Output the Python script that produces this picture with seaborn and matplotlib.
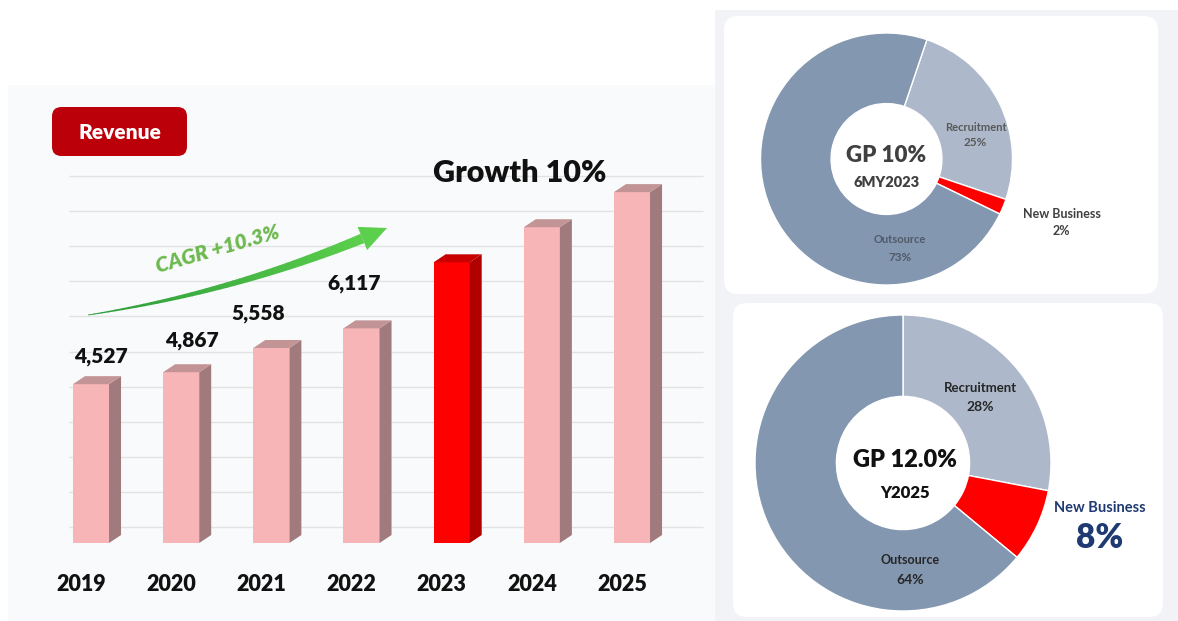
import numpy as np
import pandas as pd
import matplotlib
matplotlib.use("Agg")
import matplotlib.pyplot as plt
import seaborn as sns
from matplotlib.patches import Polygon, FancyBboxPatch, Rectangle
from matplotlib.transforms import ScaledTranslation
from matplotlib.colors import to_rgb

# ---------------- data ----------------
years = ["2019", "2020", "2021", "2022", "2023", "2024", "2025"]
revenue = [4527, 4867, 5558, 6117, 8000, 9000, 10000]
labeled = [True, True, True, True, False, False, False]
highlight_year = "2023"

gp_labels = ["Recruitment", "New Business", "Outsource"]
gp_2023_share = [25, 2, 73]
gp_2025_share = [28, 8, 64]

# ---------------- styling ----------------
W, H = 1178, 621
sns.set_theme(style="white")
plt.rcParams["font.family"] = ["Lato", "DejaVu Sans"]

fig = plt.figure(figsize=(W / 100, H / 100), dpi=100)
fig.patch.set_facecolor("white")


def fx(x):
    return x / W


def fy(y):
    return 1 - y / H


def ftext(x, y, s, **kw):
    kw.setdefault("ha", "center")
    kw.setdefault("va", "center")
    return fig.text(fx(x), fy(y), s, **kw)


def frect(x0, y0, x1, y1, color, rounded=False, z=-5):
    if rounded:
        p = FancyBboxPatch((fx(x0), fy(y1)), fx(x1) - fx(x0), fy(y0) - fy(y1),
                           boxstyle="round,pad=0,rounding_size=0.012",
                           mutation_aspect=W / H,
                           transform=fig.transFigure, facecolor=color,
                           edgecolor="none", zorder=z)
    else:
        p = Rectangle((fx(x0), fy(y1)), fx(x1) - fx(x0), fy(y0) - fy(y1),
                      transform=fig.transFigure, facecolor=color,
                      edgecolor="none", zorder=z)
    fig.patches.append(p)


# backgrounds
frect(8, 85, 715, 621, "#f9fafb")
frect(715, 10, W, H, "#f1f3f6")
frect(724, 16, 1158, 294, "white", rounded=True, z=-4)
frect(733, 303, 1163, 617, "white", rounded=True, z=-4)

# ---------------- revenue bars ----------------
PX_X = 90.17        # pixels per category
UPP = 28.5          # revenue units per pixel
ax = fig.add_axes([fx(30), fy(543), fx(710) - fx(30), fy(150) - fy(543)])
ax.patch.set_alpha(0)

df = pd.DataFrame({"year": years, "revenue": revenue})
palette = {y: ("#ff0000" if y == highlight_year else "#f7b5b8") for y in years}
sns.barplot(data=df, x="year", y="revenue", hue="year", palette=palette,
            width=0.4, saturation=1, legend=False, ax=ax, zorder=3,
            linewidth=0)

ax.set_xlim(-(91 - 30) / PX_X, 6 + (710 - 632) / PX_X)
ax.set_ylim(0, 393 * UPP)

dx = 12 / PX_X
dy = 8 * UPP
bars = sorted(ax.patches, key=lambda p: p.get_x())
for p, yr in zip(bars, years):
    x, w, h = p.get_x(), p.get_width(), p.get_height()
    hl = (yr == highlight_year)
    side_c = "#b00000" if hl else "#a07a7c"
    top_c = "#c80000" if hl else "#c39496"
    ax.add_patch(Polygon([(x + w, 0), (x + w + dx, dy), (x + w + dx, h + dy), (x + w, h)],
                         closed=True, facecolor=side_c, edgecolor="none", zorder=3))
    ax.add_patch(Polygon([(x, h), (x + dx, h + dy), (x + w + dx, h + dy), (x + w, h)],
                         closed=True, facecolor=top_c, edgecolor="none", zorder=3))

# back-wall gridlines
for k in range(11):
    ax.hlines(k * 1000 + 2 * dy, -22 / PX_X, 6 + 71 / PX_X, color="#e2e2e2",
              lw=1, zorder=1)

for s in ax.spines.values():
    s.set_visible(False)
ax.set_xlabel("")
ax.set_ylabel("")
ax.set_yticks([])
ax.tick_params(axis="x", length=0, pad=22, labelsize=15.5)
for lbl in ax.get_xticklabels():
    lbl.set_fontweight("heavy")
    lbl.set_color("#111111")
    lbl.set_transform(lbl.get_transform() + ScaledTranslation(-0.10, 0, fig.dpi_scale_trans))

# value labels (pixel offsets from top-centre of each bar)
label_offsets = [(10, 28), (11, 32), (-13, 34), (-7, 45)]
oi = 0
for i, (v, show) in enumerate(zip(revenue, labeled)):
    if not show:
        continue
    ox, oy = label_offsets[oi]
    oi += 1
    ax.annotate(f"{v:,}", xy=(i, v), xytext=(ox, oy), textcoords="offset pixels",
                ha="center", va="center", fontsize=15, fontweight="heavy",
                color="#111111", zorder=5)

# Revenue badge
fig.patches.append(FancyBboxPatch((fx(52), fy(156)), fx(187) - fx(52), fy(107) - fy(156),
                                  boxstyle="round,pad=0,rounding_size=0.008",
                                  mutation_aspect=W / H,
                                  transform=fig.transFigure, facecolor="#bb0009",
                                  edgecolor="none", zorder=2))
ftext(119.5, 132, "Revenue", color="white", fontsize=15, fontweight="heavy", zorder=4)

ftext(520, 173, "Growth 10%", color="#111111", fontsize=22, fontweight="heavy")

# CAGR arrow: tapered curved arrow with green gradient (pixel geometry)
P0 = np.array([88.0, 315.0])
P2 = np.array([387.0, 228.0])
P1 = np.array([243.0, 291.0])
tt = np.linspace(0, 1, 400)
curve = ((1 - tt)[:, None] ** 2) * P0 + (2 * (1 - tt) * tt)[:, None] * P1 + (tt[:, None] ** 2) * P2
seg = np.r_[0, np.cumsum(np.hypot(*np.diff(curve, axis=0).T))]
head_len, head_w = 27.0, 25.0
ih = np.searchsorted(seg, seg[-1] - head_len)
tang = np.gradient(curve, axis=0)
tang /= np.hypot(tang[:, 0], tang[:, 1])[:, None]
norm = np.c_[-tang[:, 1], tang[:, 0]]
body_w = np.linspace(0.8, 10.0, ih + 1)
c0, c1 = np.array(to_rgb("#2b9a3a")), np.array(to_rgb("#5ccf4c"))
nseg = 40
idx = np.linspace(0, ih, nseg + 1).astype(int)


def topx(pts):
    return [(fx(a), fy(b)) for a, b in pts]


for j in range(nseg):
    a, b = idx[j], idx[j + 1] + 1
    a = max(a - 1, 0)
    b = min(b, ih + 1)
    left = curve[a:b] + norm[a:b] * body_w[a:b, None] / 2
    right = curve[a:b] - norm[a:b] * body_w[a:b, None] / 2
    pts = np.vstack([left, right[::-1]])
    col = c0 + (c1 - c0) * (j / nseg)
    fig.patches.append(Polygon(topx(pts), closed=True, transform=fig.transFigure,
                               facecolor=col, edgecolor="none", zorder=4))
base = curve[ih]
head = [base + norm[ih] * head_w / 2, P2, base - norm[ih] * head_w / 2]
fig.patches.append(Polygon(topx(head), closed=True, transform=fig.transFigure,
                           facecolor="#5ccf4c", edgecolor="none", zorder=4))

ftext(218, 249, "CAGR +10.3%", color="#6cb94e", fontsize=15, fontweight="heavy",
      style="italic", rotation=16, rotation_mode="anchor")

# ---------------- donuts ----------------
donut_colors = ["#adb9ca", "#ff0000", "#8497b0"]


def donut(cx, cy, r, hole, shares, startangle):
    dax = fig.add_axes([fx(cx - r), fy(cy + r), 2 * r / W, 2 * r / H])
    dax.pie(shares, colors=donut_colors, startangle=startangle, counterclock=False,
            radius=1, wedgeprops=dict(width=1 - hole, edgecolor="white", linewidth=1))
    dax.set_xlim(-1, 1)
    dax.set_ylim(-1, 1)
    dax.axis("off")
    return dax


donut(886.5, 159, 126, 0.44, gp_2023_share, 71.3)
donut(903, 463, 148, 0.45, gp_2025_share, 90)

# top donut texts
ftext(886.5, 155, "GP 10%", fontsize=16, fontweight="heavy", color="#404040")
ftext(886.5, 182.5, "6MY2023", fontsize=10.5, fontweight="heavy", color="#404040")
ftext(975.5, 127.5, gp_labels[0], fontsize=8, fontweight="bold", color="#595959")
ftext(975.5, 143, f"{gp_2023_share[0]}%", fontsize=8.5, fontweight="bold", color="#595959")
ftext(1061.5, 214.5, gp_labels[1], fontsize=9, fontweight="bold", color="#404040")
ftext(1061.5, 231, f"{gp_2023_share[1]}%", fontsize=9, fontweight="bold", color="#404040")
ftext(900, 240, gp_labels[2], fontsize=8, fontweight="bold", color="#505a68")
ftext(900, 257, f"{gp_2023_share[2]}%", fontsize=8.5, fontweight="bold", color="#505a68")

# bottom donut texts
ftext(905, 460, "GP 12.0%", fontsize=17, fontweight="heavy", color="#111111")
ftext(905, 492.5, "Y2025", fontsize=12, fontweight="heavy", color="#111111")
ftext(980, 388.5, gp_labels[0], fontsize=9.5, fontweight="bold", color="#262626")
ftext(980, 407, f"{gp_2025_share[0]}%", fontsize=10, fontweight="bold", color="#262626")
ftext(1099.5, 507.5, gp_labels[1], fontsize=10.5, fontweight="bold", color="#1f3a73")
ftext(1099.5, 538.5, f"{gp_2025_share[1]}%", fontsize=24, fontweight="heavy", color="#1f3a73")
ftext(910, 559.5, gp_labels[2], fontsize=9, fontweight="bold", color="#262626")
ftext(910, 579.5, f"{gp_2025_share[2]}%", fontsize=10, fontweight="bold", color="#262626")

fig.savefig("out.png", dpi=100, facecolor=fig.get_facecolor())
